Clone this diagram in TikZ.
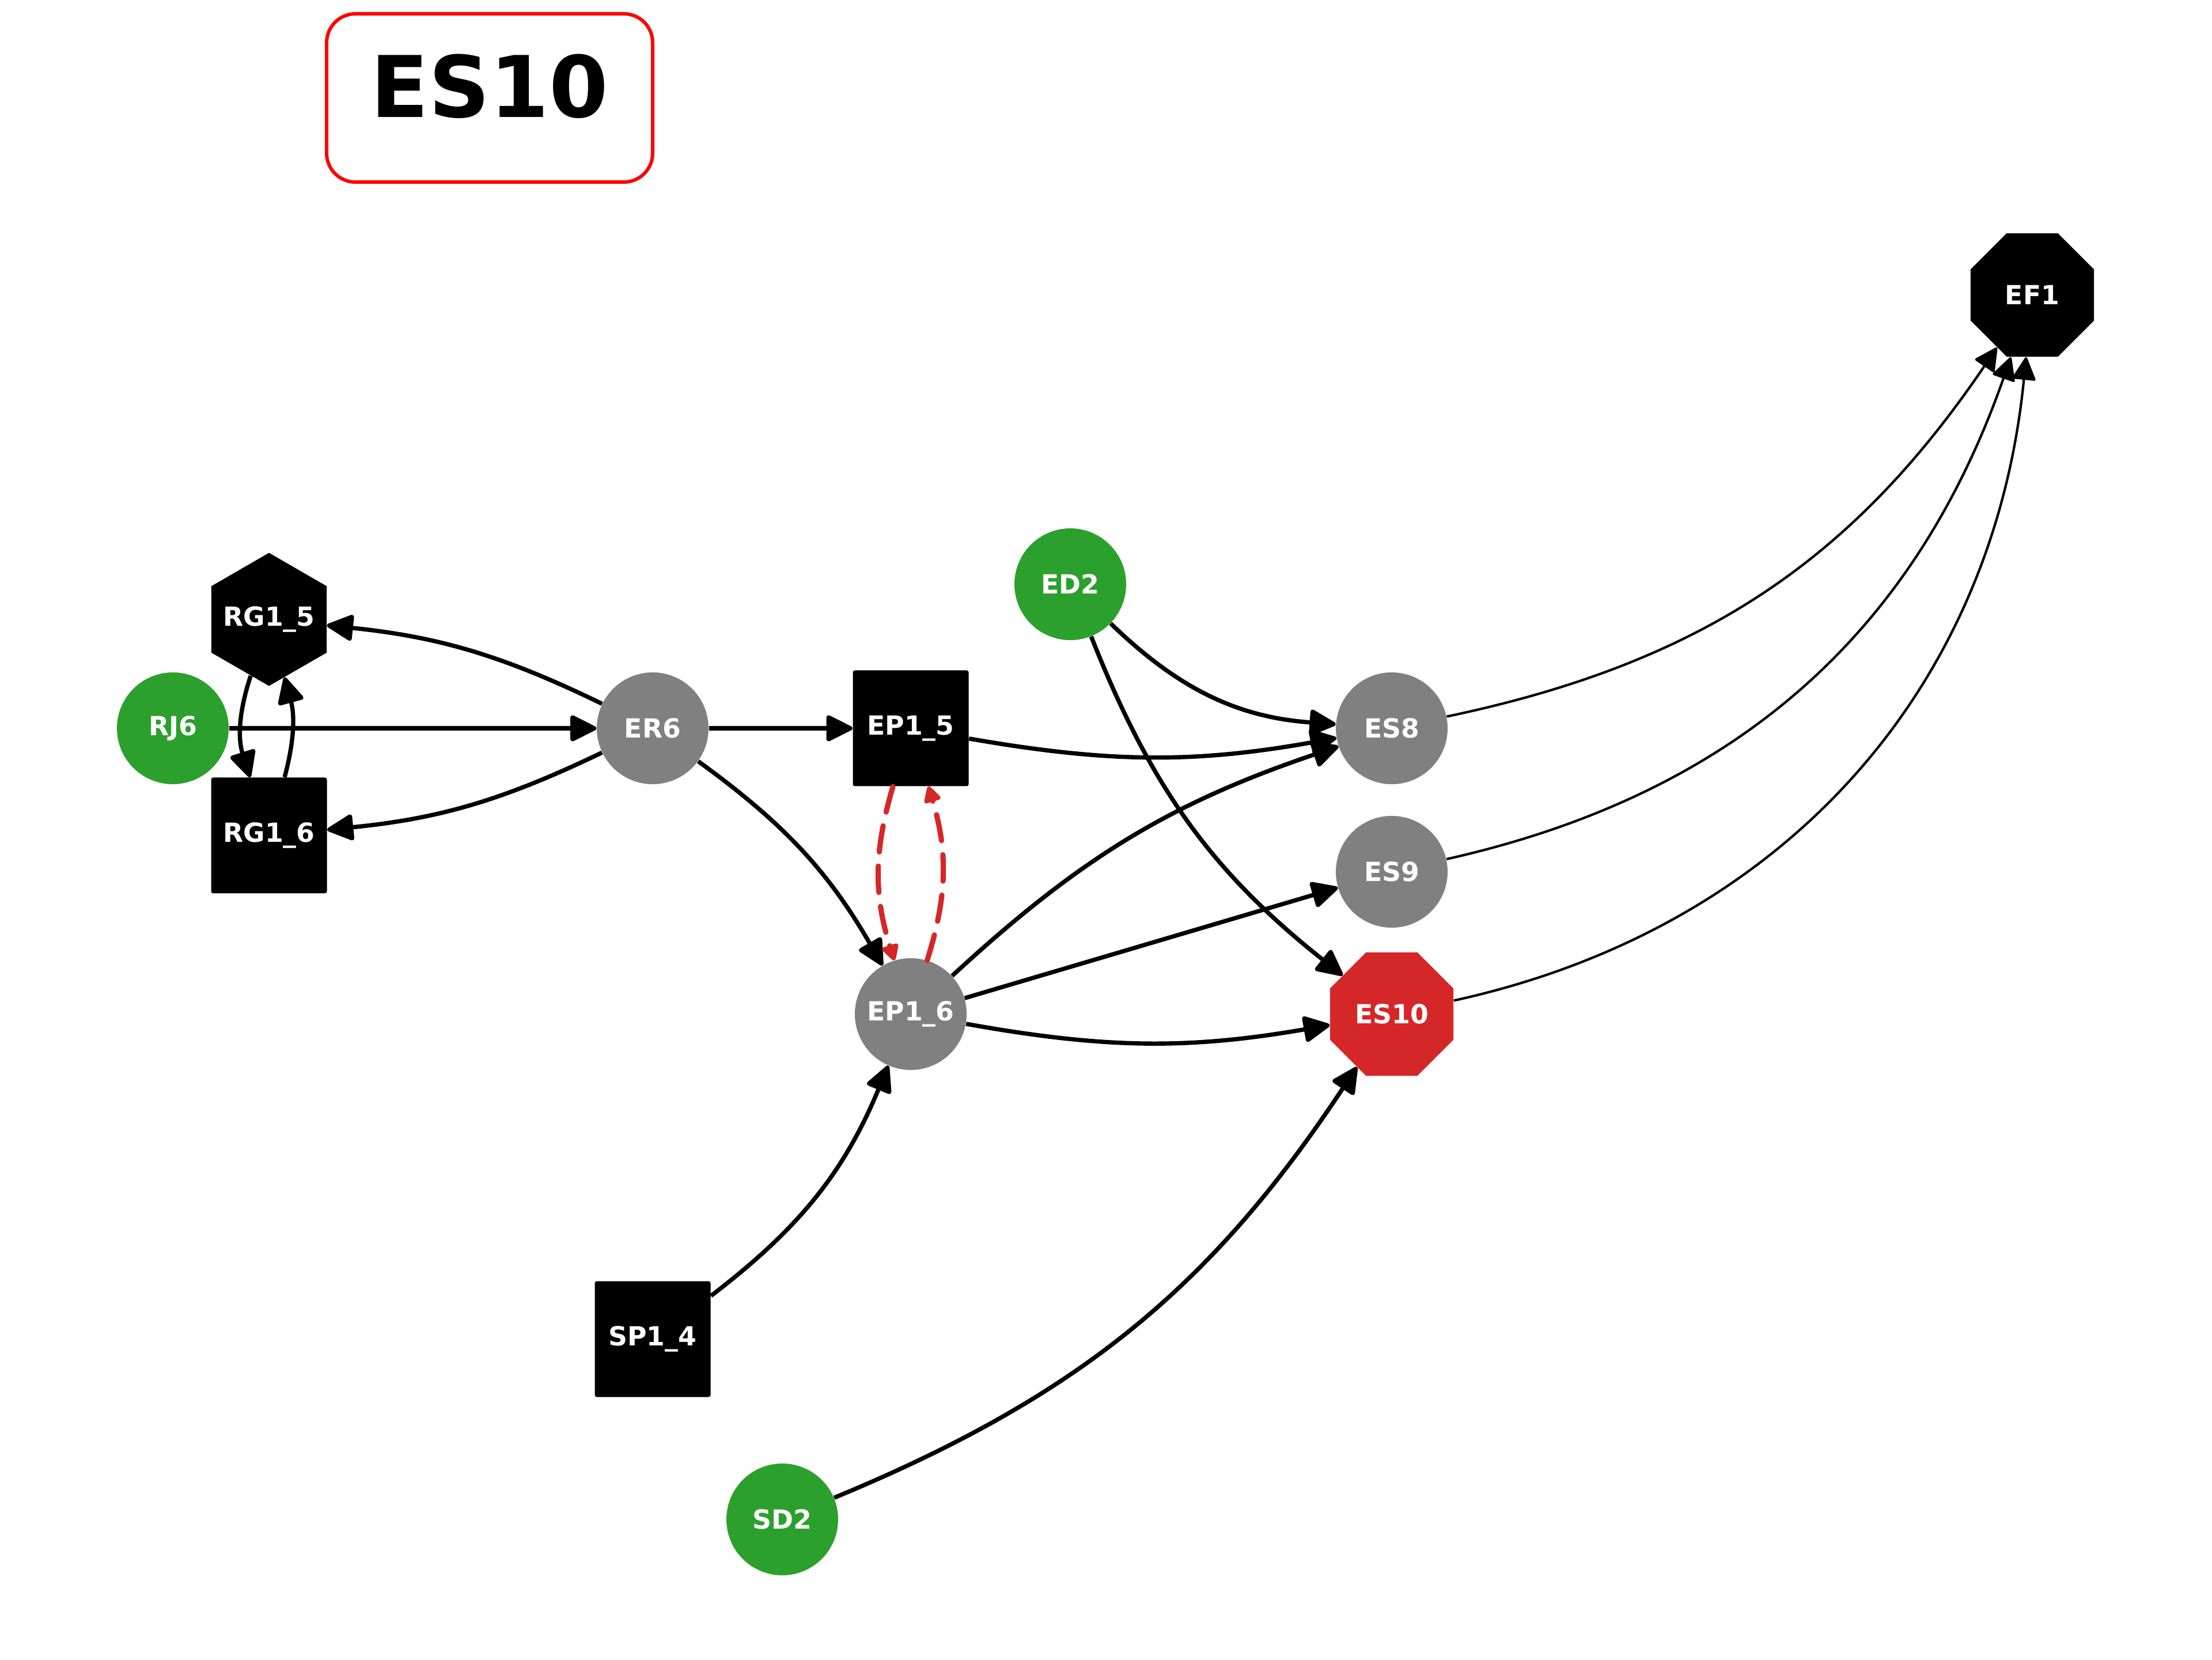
\documentclass[tikz,border=0pt]{standalone}
\usepackage{fontspec}
\usepackage{xcolor}
\usetikzlibrary{arrows.meta,shapes.geometric}
\newfontfamily\dejavu{DejaVu Sans}
\definecolor{vgreen}{HTML}{2CA02C}
\definecolor{vgray}{HTML}{808080}
\definecolor{vred}{HTML}{D62728}

\begin{document}
\begin{tikzpicture}[
	every node/.style = {text=white, font=\dejavu\bfseries\fontsize{13}{15}\selectfont, inner sep=0pt},
	roundnode/.style = {circle, minimum size=1.94cm},
	squarenode/.style = {rectangle, fill=black, minimum size=2.01cm, rounded corners=1pt},
	octnode/.style = {regular polygon, regular polygon sides=8, minimum size=2.32cm},
	hexnode/.style = {regular polygon, regular polygon sides=6, shape border rotate=30, minimum size=2.31cm, fill=black},
	edge/.style = {-{Triangle[length=0.5cm, width=0.48cm, round]}, line width=2.1pt},
	thinedge/.style = {-{Triangle[length=0.42cm, width=0.42cm, round]}, line width=1.2pt},
	redge/.style = {-{Triangle[length=0.32cm, width=0.32cm, round]}, line width=2.6pt, vred, dash pattern=on 13pt off 7pt, line cap=round}
	]
	\useasboundingbox (0,0) rectangle (38.4,28.8);

	% title
	\node[draw=red, line width=1.7pt, rounded corners=0.5cm, fill=white, minimum width=5.66cm, minimum height=2.92cm] (title) at (8.50,27.10) {};
	\node[text=black, font=\dejavu\bfseries\fontsize{42}{48}\selectfont] (titletext) at (8.50,27.30) {ES10};

	% nodes
	\node[roundnode, fill=vgreen] (rj6) at (3.00,16.16) {RJ6};
	\node[roundnode, fill=vgray] (er6) at (11.33,16.16) {ER6};
	\node[squarenode] (ep15) at (15.81,16.16) {EP1\_5};
	\node[roundnode, fill=vgray] (es8) at (24.16,16.16) {ES8};
	\node[hexnode, label=center:{RG1\_5}] (rg15) at (4.67,18.05) {};
	\node[squarenode] (rg16) at (4.67,14.30) {RG1\_6};
	\node[roundnode, fill=vgreen] (ed2) at (18.58,18.66) {ED2};
	\node[roundnode, fill=vgray] (es9) at (24.16,13.67) {ES9};
	\node[roundnode, fill=vgray] (ep16) at (15.81,11.20) {EP1\_6};
	\node[octnode, fill=vred] (es10) at (24.16,11.20) {ES10};
	\node[squarenode] (sp14) at (11.33,5.56) {SP1\_4};
	\node[roundnode, fill=vgreen] (sd2) at (13.58,2.43) {SD2};
	\node[octnode, fill=black] (ef1) at (35.28,23.68) {EF1};

	% edges
	\draw[edge] (rj6) -- (er6);
	\draw[edge] (er6) -- (ep15);
	\draw[edge] (er6) to[bend right=10] (rg15);
	\draw[edge] (er6) to[bend left=10] (rg16);
	\draw[edge] (er6) to[bend left=12] (ep16);
	\draw[edge] (rg15) to[bend right=18] (rg16);
	\draw[edge] (rg16) to[bend right=15] (rg15);
	\draw[redge] (ep15) to[bend right=17] (ep16);
	\draw[redge] (ep16) to[bend right=17] (ep15);
	\draw[edge] (ep15) to[bend right=10] (es8);
	\draw[edge] (ed2) to[bend right=20] (es8);
	\draw[edge] (ed2) to[bend right=15] (es10);
	\draw[edge] (ep16) to[bend left=12] (es8);
	\draw[edge] (ep16) -- (es9);
	\draw[edge] (ep16) to[bend right=10] (es10);
	\draw[edge] (sp14) to[bend right=15] (ep16);
	\draw[edge] (sd2) to[bend right=17] (es10);
	\draw[thinedge] (es8) to[bend right=22] (ef1);
	\draw[thinedge] (es9) to[bend right=29] (ef1);
	\draw[thinedge] (es10) to[bend right=36] (ef1);
\end{tikzpicture}
\end{document}
